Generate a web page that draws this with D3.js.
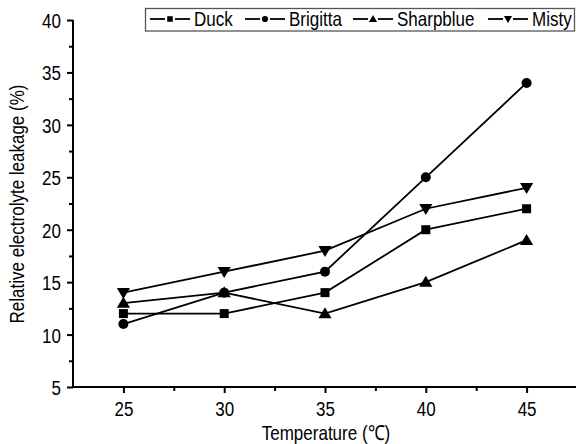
<!DOCTYPE html>
<html><head><meta charset="utf-8">
<script src="https://cdn.jsdelivr.net/npm/d3@7"></script>
<style>body{margin:0;background:#fff;}svg{display:block;}text{font-family:"Liberation Sans",Arial,sans-serif;fill:#000;}</style>
</head><body>
<svg id="c" width="576" height="444"></svg>
<script>
const temps = [25, 30, 35, 40, 45];
const duck = [12, 12, 14, 20, 22];
const brigitta = [11, 14, 16, 25, 34];
const sharpblue = [13, 14, 12, 15, 19];
const misty = [14, 16, 18, 22, 24];
const seriesNames = ["Duck", "Brigitta", "Sharpblue", "Misty"];
const xTicks = [25, 30, 35, 40, 45];
const yTicks = [5, 10, 15, 20, 25, 30, 35, 40];

const series = [
  {name: seriesNames[0], values: duck, sym: "square"},
  {name: seriesNames[1], values: brigitta, sym: "circle"},
  {name: seriesNames[2], values: sharpblue, sym: "tri"},
  {name: seriesNames[3], values: misty, sym: "tridown"}
];

const svg = d3.select("#c");
const x = d3.scaleLinear().domain([22.5, 47.5]).range([73, 577]);
const y = d3.scaleLinear().domain([5, 40]).range([387, 20]);
const FS = 17;
const SY = 1.22;

function symPath(sym, s) {
  if (sym === "square") return `M${-s/2},${-s/2}h${s}v${s}h${-s}Z`;
  if (sym === "circle") { const r = s/2; return `M${-r},0a${r},${r} 0 1,0 ${2*r},0a${r},${r} 0 1,0 ${-2*r},0Z`; }
  if (sym === "tri") { const h = s*0.95; return `M0,${-h*0.6}L${s*0.6},${h*0.45}L${-s*0.6},${h*0.45}Z`; }
  if (sym === "tridown") { const h = s*0.95; return `M0,${h*0.6}L${s*0.6},${-h*0.45}L${-s*0.6},${-h*0.45}Z`; }
}
const symSize = {square: 9, circle: 10, tri: 11, tridown: 11};

// Axes
const xAxis = d3.axisBottom(x).tickValues(xTicks).tickSize(6).tickPadding(3).tickFormat(d3.format("d"));
const gx = svg.append("g").attr("transform", `translate(0,${y(5)})`).call(xAxis);
gx.select(".domain").attr("stroke-width", 2).attr("d", `M${x(22.5)},0H${x(47.5)}`);
gx.selectAll(".tick line").attr("stroke-width", 2);
gx.selectAll("text").style("font-size", FS + "px").style("font-family", "Liberation Sans")
  .attr("y", 0).attr("dy", null).attr("transform", `translate(0,${29}) scale(1,${SY})`);
const xMinor = d3.axisBottom(x).tickValues([27.5, 32.5, 37.5, 42.5]).tickSize(4).tickFormat("");
const gxm = svg.append("g").attr("transform", `translate(0,${y(5)})`).call(xMinor);
gxm.select(".domain").remove();
gxm.selectAll(".tick line").attr("stroke-width", 2);

const yAxis = d3.axisLeft(y).tickValues(yTicks).tickSize(6).tickPadding(6).tickFormat(d3.format("d"));
const gy = svg.append("g").attr("transform", `translate(${x(22.5)},0)`).call(yAxis);
gy.select(".domain").attr("stroke-width", 2).attr("d", `M0,${y(5)}V${y(40)}`);
gy.selectAll(".tick line").attr("stroke-width", 2);
gy.selectAll("text").style("font-size", FS + "px").style("font-family", "Liberation Sans")
  .attr("dy", "0.36em").attr("transform", `scale(1,${SY})`);
const yMinor = d3.axisLeft(y).tickValues([7.5, 12.5, 17.5, 22.5, 27.5, 32.5, 37.5]).tickSize(4).tickFormat("");
const gym = svg.append("g").attr("transform", `translate(${x(22.5)},0)`).call(yMinor);
gym.select(".domain").remove();
gym.selectAll(".tick line").attr("stroke-width", 2);

// Axis labels
svg.append("text").attr("transform", `translate(326,440) scale(1,${SY})`).attr("text-anchor", "middle")
  .style("font-size", FS + "px").text("Temperature (℃)");
svg.append("text").attr("transform", `translate(24,204) rotate(-90) scale(1,${SY})`)
  .attr("text-anchor", "middle").style("font-size", FS + "px").text("Relative electrolyte leakage (%)");

// Lines
const line = d3.line().x((d, i) => x(temps[i])).y(d => y(d));
series.forEach(s => {
  svg.append("path").attr("d", line(s.values)).attr("fill", "none").attr("stroke", "#000").attr("stroke-width", 1.8);
  svg.selectAll(null).data(s.values).enter().append("path")
    .attr("transform", (d, i) => `translate(${x(temps[i])},${y(d)})`)
    .attr("d", symPath(s.sym, symSize[s.sym])).attr("fill", "#000");
});

// Legend
const lg = svg.append("g");
lg.append("rect").attr("x", 145.5).attr("y", 8.5).attr("width", 429).attr("height", 22.5)
  .attr("fill", "#fff").attr("stroke", "#555").attr("stroke-width", 1.3);
const legX = [150, 245, 353, 488];
const ly = 19;
series.forEach((s, i) => {
  const cx = legX[i];
  lg.append("line").attr("x1", cx).attr("x2", cx + 15).attr("y1", ly).attr("y2", ly).attr("stroke", "#000").attr("stroke-width", 1.8);
  lg.append("line").attr("x1", cx + 25).attr("x2", cx + 40).attr("y1", ly).attr("y2", ly).attr("stroke", "#000").attr("stroke-width", 1.8);
  lg.append("path").attr("transform", `translate(${cx + 20},${ly})`).attr("d", symPath(s.sym, symSize[s.sym] * 0.62)).attr("fill", "#000");
  lg.append("text").attr("transform", `translate(${cx + 44},${ly + 7}) scale(1,${SY})`).style("font-size", FS + "px").text(s.name);
});
</script>
</body></html>
